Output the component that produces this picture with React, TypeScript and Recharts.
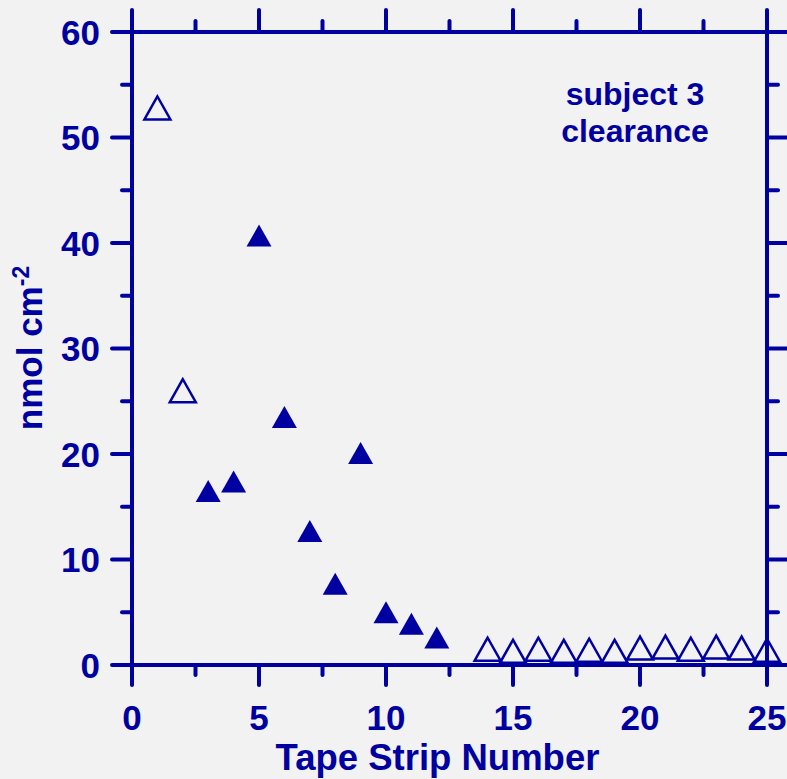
import { ScatterChart, Scatter, XAxis, YAxis } from 'recharts';

const NAVY = '#0000a0';
const BG = '#f2f2f2';
const FONT = '"Liberation Sans", Arial, Helvetica, sans-serif';

// strips drawn with open markers
const openStrips = [1, 2, 14, 15, 16, 17, 18, 19, 20, 21, 22, 23, 24, 25];
const openAmounts = [52.8, 26.0, 1.5, 1.3, 1.5, 1.3, 1.4, 1.3, 1.6, 1.7, 1.5, 1.7, 1.6, 1.4];

// strips drawn with filled markers
const filledStrips = [3, 4, 5, 6, 7, 8, 9, 10, 11, 12];
const filledAmounts = [16.5, 17.4, 40.7, 23.5, 12.7, 7.7, 20.1, 5.0, 3.9, 2.6];

const xTicks = [0, 2.5, 5, 7.5, 10, 12.5, 15, 17.5, 20, 22.5, 25];
const yTicks = [0, 5, 10, 15, 20, 25, 30, 35, 40, 45, 50, 55, 60];

const openData = openStrips.map((x, i) => ({ x, y: openAmounts[i] }));
const filledData = filledStrips.map((x, i) => ({ x, y: filledAmounts[i] }));

const isMajorX = (v: number) => v % 5 === 0;
const isMajorY = (v: number) => v % 10 === 0;

const tickLine = { stroke: NAVY, strokeWidth: 4, strokeLinecap: 'round' as const };
const labelStyle = { fontFamily: FONT, fontWeight: 700, fill: NAVY };

function BottomTick({ x, y, payload }: any) {
  const major = isMajorX(payload.value);
  return (
    <g>
      <line x1={x} y1={y} x2={x} y2={y + (major ? 20 : 10)} {...tickLine} />
      {major && (
        <text x={x} y={y + 65} textAnchor="middle" fontSize={35} {...labelStyle}>
          {payload.value}
        </text>
      )}
    </g>
  );
}

function TopTick({ x, y, payload }: any) {
  const major = isMajorX(payload.value);
  return <line x1={x} y1={y} x2={x} y2={y - (major ? 22 : 11)} {...tickLine} />;
}

function LeftTick({ x, y, payload }: any) {
  const major = isMajorY(payload.value);
  return (
    <g>
      <line x1={x} y1={y} x2={x - (major ? 20 : 10)} y2={y} {...tickLine} />
      {major && (
        <text x={x - 32} y={y + 12.5} textAnchor="end" fontSize={35} {...labelStyle}>
          {payload.value}
        </text>
      )}
    </g>
  );
}

function RightTick({ x, y, payload }: any) {
  const major = isMajorY(payload.value);
  return <line x1={x} y1={y} x2={x + (major ? 22 : 11)} y2={y} {...tickLine} />;
}

function OpenTriangle({ cx, cy }: any) {
  const w = 13;
  const h = 11.5;
  return (
    <polygon
      points={`${cx},${cy - h} ${cx - w},${cy + h} ${cx + w},${cy + h}`}
      fill="none"
      stroke={NAVY}
      strokeWidth={2.5}
    />
  );
}

function FilledTriangle({ cx, cy }: any) {
  const w = 12.5;
  const h = 11;
  return <polygon points={`${cx},${cy - h} ${cx - w},${cy + h} ${cx + w},${cy + h}`} fill={NAVY} />;
}

function YTitle() {
  return (
    <text transform="translate(42, 348) rotate(-90)" textAnchor="middle" fontSize={35} {...labelStyle}>
      <tspan>nmol cm</tspan>
      <tspan dy={-13} fontSize={23}>-2</tspan>
    </text>
  );
}

export default function App() {
  return (
    <div style={{ position: 'absolute', left: 0, top: 0, width: 787, height: 779, background: BG }}>
      <ScatterChart width={787} height={779} margin={{ top: 31, right: 19, bottom: 0, left: 0 }}>
        <XAxis
          xAxisId="bottom"
          type="number"
          dataKey="x"
          domain={[0, 25]}
          ticks={xTicks}
          interval={0}
          height={114}
          tickSize={0}
          tickMargin={0}
          tickLine={false}
          axisLine={{ stroke: NAVY, strokeWidth: 4 }}
          tick={<BottomTick />}
        />
        <XAxis
          xAxisId="top"
          orientation="top"
          type="number"
          dataKey="x"
          domain={[0, 25]}
          ticks={xTicks}
          interval={0}
          allowDataOverflow
          height={1}
          tickSize={0}
          tickMargin={0}
          tickLine={false}
          axisLine={{ stroke: NAVY, strokeWidth: 4 }}
          tick={<TopTick />}
        />
        <YAxis
          yAxisId="left"
          type="number"
          dataKey="y"
          domain={[0, 60]}
          ticks={yTicks}
          interval={0}
          width={132}
          tickSize={0}
          tickMargin={0}
          tickLine={false}
          axisLine={{ stroke: NAVY, strokeWidth: 4 }}
          tick={<LeftTick />}
        />
        <YAxis
          yAxisId="right"
          orientation="right"
          type="number"
          dataKey="y"
          domain={[0, 60]}
          ticks={yTicks}
          interval={0}
          allowDataOverflow
          width={1}
          tickSize={0}
          tickMargin={0}
          tickLine={false}
          axisLine={{ stroke: NAVY, strokeWidth: 4 }}
          tick={<RightTick />}
        />
        <Scatter
          xAxisId="bottom"
          yAxisId="left"
          data={openData}
          shape={<OpenTriangle />}
          isAnimationActive={false}
        />
        <Scatter
          xAxisId="bottom"
          yAxisId="left"
          data={filledData}
          shape={<FilledTriangle />}
          isAnimationActive={false}
        />
        <text x={437.5} y={770} textAnchor="middle" fontSize={36.5} {...labelStyle}>
          Tape Strip Number
        </text>
        <YTitle />
        <text x={635} y={105} textAnchor="middle" fontSize={32} {...labelStyle}>
          subject 3
        </text>
        <text x={635} y={142} textAnchor="middle" fontSize={32} {...labelStyle}>
          clearance
        </text>
      </ScatterChart>
    </div>
  );
}
